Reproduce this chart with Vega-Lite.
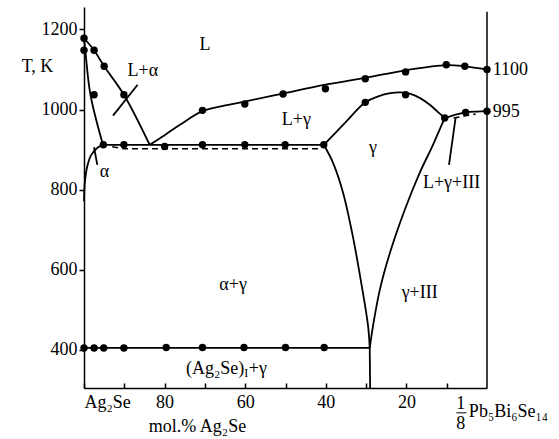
{
  "$schema": "https://vega.github.io/schema/vega-lite/v6.json",
  "width": 403,
  "height": 381,
  "autosize": {"type": "none"},
  "padding": {"left": 84, "top": 7, "right": 72, "bottom": 51},
  "background": "white",
  "config": {
    "view": {"stroke": null},
    "font": "Liberation Serif",
    "axis": {
      "labelFont": "Liberation Serif", "labelFontSize": 18, "labelColor": "black",
      "domainColor": "black", "domainWidth": 1.5, "tickColor": "black", "tickWidth": 1.5,
      "grid": false, "titleFont": "Liberation Serif", "titleFontSize": 18,
      "titleFontWeight": "normal", "titleColor": "black"
    }
  },
  "datasets": {
    "lines": [
      {"s":"liqA","o":1,"c":100,"T":1178},{"s":"liqA","o":2,"c":97.5,"T":1148},{"s":"liqA","o":3,"c":95,"T":1108},{"s":"liqA","o":4,"c":90.1,"T":1037},{"s":"liqA","o":5,"c":83.7,"T":912},
      {"s":"solA","o":1,"c":100,"T":1178},{"s":"solA","o":2,"c":99.6,"T":1140},{"s":"solA","o":3,"c":98.4,"T":1037},{"s":"solA","o":4,"c":95.3,"T":912},
      {"s":"solvA","o":1,"c":95.2,"T":912},{"s":"solvA","o":2,"c":96.5,"T":906},{"s":"solvA","o":3,"c":98.2,"T":887},{"s":"solvA","o":4,"c":99.2,"T":858},{"s":"solvA","o":5,"c":99.8,"T":817},{"s":"solvA","o":6,"c":100,"T":771},
      {"s":"eut","o":1,"c":95.3,"T":912},{"s":"eut","o":2,"c":40.5,"T":912},
      {"s":"liqG","o":1,"c":83.7,"T":912},{"s":"liqG","o":2,"c":80,"T":936},{"s":"liqG","o":3,"c":76.2,"T":962},{"s":"liqG","o":4,"c":70.6,"T":996},{"s":"liqG","o":5,"c":65.5,"T":1009},{"s":"liqG","o":6,"c":60.1,"T":1020},{"s":"liqG","o":7,"c":50.6,"T":1040},{"s":"liqG","o":8,"c":40.1,"T":1062},{"s":"liqG","o":9,"c":30.2,"T":1079},{"s":"liqG","o":10,"c":20.2,"T":1098},{"s":"liqG","o":11,"c":10.1,"T":1111},{"s":"liqG","o":12,"c":5.5,"T":1108},{"s":"liqG","o":13,"c":0,"T":1100},
      {"s":"dome","o":1,"c":40.5,"T":912},{"s":"dome","o":2,"c":35.3,"T":966},{"s":"dome","o":3,"c":30.2,"T":1018},{"s":"dome","o":4,"c":27,"T":1033},{"s":"dome","o":5,"c":24,"T":1041},{"s":"dome","o":6,"c":21.5,"T":1043},{"s":"dome","o":7,"c":19,"T":1039},{"s":"dome","o":8,"c":16.5,"T":1028},{"s":"dome","o":9,"c":14.2,"T":1012},{"s":"dome","o":10,"c":12.3,"T":995},{"s":"dome","o":11,"c":10.5,"T":979},
      {"s":"liqR","o":1,"c":10.5,"T":979},{"s":"liqR","o":2,"c":7.5,"T":988},{"s":"liqR","o":3,"c":5.2,"T":993},{"s":"liqR","o":4,"c":2.5,"T":995},{"s":"liqR","o":5,"c":0,"T":996},
      {"s":"solvG","o":1,"c":40.5,"T":912},{"s":"solvG","o":2,"c":38.2,"T":867},{"s":"solvG","o":3,"c":35.7,"T":792},{"s":"solvG","o":4,"c":33.3,"T":684},{"s":"solvG","o":5,"c":31.2,"T":567},{"s":"solvG","o":6,"c":29.5,"T":459},{"s":"solvG","o":7,"c":29.1,"T":405},
      {"s":"vert","o":1,"c":29.1,"T":405},{"s":"vert","o":2,"c":29.0,"T":305},
      {"s":"gIII","o":1,"c":10.5,"T":979},{"s":"gIII","o":2,"c":13.4,"T":912},{"s":"gIII","o":3,"c":16.7,"T":842},{"s":"gIII","o":4,"c":20.4,"T":750},{"s":"gIII","o":5,"c":24.1,"T":642},{"s":"gIII","o":6,"c":26.6,"T":550},{"s":"gIII","o":7,"c":28.3,"T":459},{"s":"gIII","o":8,"c":29.1,"T":405},
      {"s":"bot","o":1,"c":100,"T":405},{"s":"bot","o":2,"c":29.1,"T":405},
      {"s":"ldLa","o":1,"c":92.8,"T":985},{"s":"ldLa","o":2,"c":86.7,"T":1062},
      {"s":"ldA","o":1,"c":97.5,"T":906},{"s":"ldA","o":2,"c":96.7,"T":862},
      {"s":"ldL3","o":1,"c":9.43,"T":862},{"s":"ldL3","o":2,"c":7.77,"T":981}
    ],
    "dashed": [
      {"s":"d1","o":1,"c":93,"T":907},{"s":"d1","o":2,"c":90,"T":902},{"s":"d1","o":3,"c":41.5,"T":902},
      {"s":"d2","o":1,"c":8.3,"T":979},{"s":"d2","o":2,"c":2.8,"T":989}
    ],
    "dots": [
      {"c":100,"T":1178},{"c":100,"T":1148},{"c":97.5,"T":1148},{"c":95,"T":1108},{"c":90.1,"T":1037},{"c":97.5,"T":1037},
      {"c":95.2,"T":912},{"c":90.1,"T":912},{"c":80,"T":908},{"c":70.6,"T":912},{"c":60.1,"T":912},{"c":50.1,"T":912},{"c":40.5,"T":912},
      {"c":70.6,"T":998},{"c":60.1,"T":1014},{"c":50.6,"T":1039},{"c":40.1,"T":1052},{"c":30.2,"T":1077},{"c":20.2,"T":1094},{"c":10.1,"T":1112},{"c":5.5,"T":1108},{"c":0,"T":1100},
      {"c":30.2,"T":1018},{"c":20.2,"T":1037},{"c":10.5,"T":979},{"c":5.3,"T":993},{"c":0,"T":996},
      {"c":100,"T":405},{"c":97.5,"T":405},{"c":95.1,"T":405},{"c":90.1,"T":405},{"c":79.6,"T":406},{"c":70.6,"T":406},{"c":60.3,"T":406},{"c":50,"T":406},{"c":40.4,"T":406}
    ],
    "labels": [
      {"t":"L","c":70,"T":1162},
      {"t":"L+α","c":85.4,"T":1097},
      {"t":"L+γ","c":47.3,"T":975},
      {"t":"γ","c":28.3,"T":905},
      {"t":"α","c":94.9,"T":845},
      {"t":"α+γ","c":63,"T":561},
      {"t":"γ+III","c":16.7,"T":543},
      {"t":"L+γ+III","c":8.8,"T":817},
      {"t":"1","c":6.5,"T":266},
      {"t":"8","c":6.5,"T":216}
    ],
    "leftLabels": [
      {"t":"1100","c":-1.4,"T":1098},
      {"t":"995","c":-1.4,"T":993},
      {"t":"Pb₅Bi₆Se₁₄","c":4.5,"T":246},
      {"t":"+γ","c":59.1,"T":353}
    ],
    "rightLabels": [
      {"t":"(Ag₂Se)","c":60.25,"T":353}
    ],
    "subLabels": [
      {"t":"I","c":60.25,"T":343}
    ],
    "bars": [
      {"c":7.6,"c2":5.1,"T":243}
    ],
    "axisR": [
      {"c":0,"T":305,"T2":1244}
    ]
  },
  "layer": [
    {
      "data": {"name": "lines"},
      "mark": {"type": "line", "color": "black", "strokeWidth": 1.8, "interpolate": "catmull-rom"},
      "encoding": {
        "x": {"field": "c", "type": "quantitative",
          "scale": {"domain": [0, 100], "reverse": true, "nice": false, "zero": false},
          "axis": {"values": [100, 90, 80, 70, 60, 50, 40, 30, 20, 10], "tickSize": -5, "labelPadding": 10,
            "labelExpr": "datum.value == 100 ? 'Ag₂Se' : (datum.value % 20 == 0 ? format(datum.value, 'd') : '')",
            "title": "mol.% Ag₂Se", "titleX": 113, "titleY": 38, "titleBaseline": "middle", "titleAlign": "center"}},
        "y": {"field": "T", "type": "quantitative",
          "scale": {"domain": [305, 1256], "nice": false, "zero": false},
          "axis": {"values": [400, 600, 800, 1000, 1200], "format": "d", "tickSize": 5, "labelPadding": 2,
            "title": "T, K", "titleAngle": 0, "titleX": -47, "titleY": 59, "titleAlign": "center", "titleBaseline": "middle"}},
        "detail": {"field": "s"},
        "order": {"field": "o"}
      }
    },
    {
      "data": {"name": "dashed"},
      "mark": {"type": "line", "color": "black", "strokeWidth": 1.5, "strokeDash": [6, 4]},
      "encoding": {
        "x": {"field": "c", "type": "quantitative"},
        "y": {"field": "T", "type": "quantitative"},
        "detail": {"field": "s"},
        "order": {"field": "o"}
      }
    },
    {
      "data": {"name": "axisR"},
      "mark": {"type": "rule", "color": "black", "strokeWidth": 1.5},
      "encoding": {
        "x": {"field": "c", "type": "quantitative"},
        "y": {"field": "T", "type": "quantitative"},
        "y2": {"field": "T2"}
      }
    },
    {
      "data": {"name": "bars"},
      "mark": {"type": "rule", "color": "black", "strokeWidth": 1},
      "encoding": {
        "x": {"field": "c", "type": "quantitative"},
        "x2": {"field": "c2"},
        "y": {"field": "T", "type": "quantitative"}
      }
    },
    {
      "data": {"name": "dots"},
      "mark": {"type": "point", "filled": true, "color": "black", "size": 55, "opacity": 1},
      "encoding": {
        "x": {"field": "c", "type": "quantitative"},
        "y": {"field": "T", "type": "quantitative"}
      }
    },
    {
      "data": {"name": "labels"},
      "mark": {"type": "text", "font": "Liberation Serif", "fontSize": 18, "color": "black", "align": "center", "baseline": "middle"},
      "encoding": {
        "x": {"field": "c", "type": "quantitative"},
        "y": {"field": "T", "type": "quantitative"},
        "text": {"field": "t"}
      }
    },
    {
      "data": {"name": "leftLabels"},
      "mark": {"type": "text", "font": "Liberation Serif", "fontSize": 18, "color": "black", "align": "left", "baseline": "middle"},
      "encoding": {
        "x": {"field": "c", "type": "quantitative"},
        "y": {"field": "T", "type": "quantitative"},
        "text": {"field": "t"}
      }
    },
    {
      "data": {"name": "rightLabels"},
      "mark": {"type": "text", "font": "Liberation Serif", "fontSize": 18, "color": "black", "align": "right", "baseline": "middle"},
      "encoding": {
        "x": {"field": "c", "type": "quantitative"},
        "y": {"field": "T", "type": "quantitative"},
        "text": {"field": "t"}
      }
    },
    {
      "data": {"name": "subLabels"},
      "mark": {"type": "text", "font": "Liberation Serif", "fontSize": 12, "color": "black", "align": "left", "baseline": "middle"},
      "encoding": {
        "x": {"field": "c", "type": "quantitative"},
        "y": {"field": "T", "type": "quantitative"},
        "text": {"field": "t"}
      }
    }
  ]
}
